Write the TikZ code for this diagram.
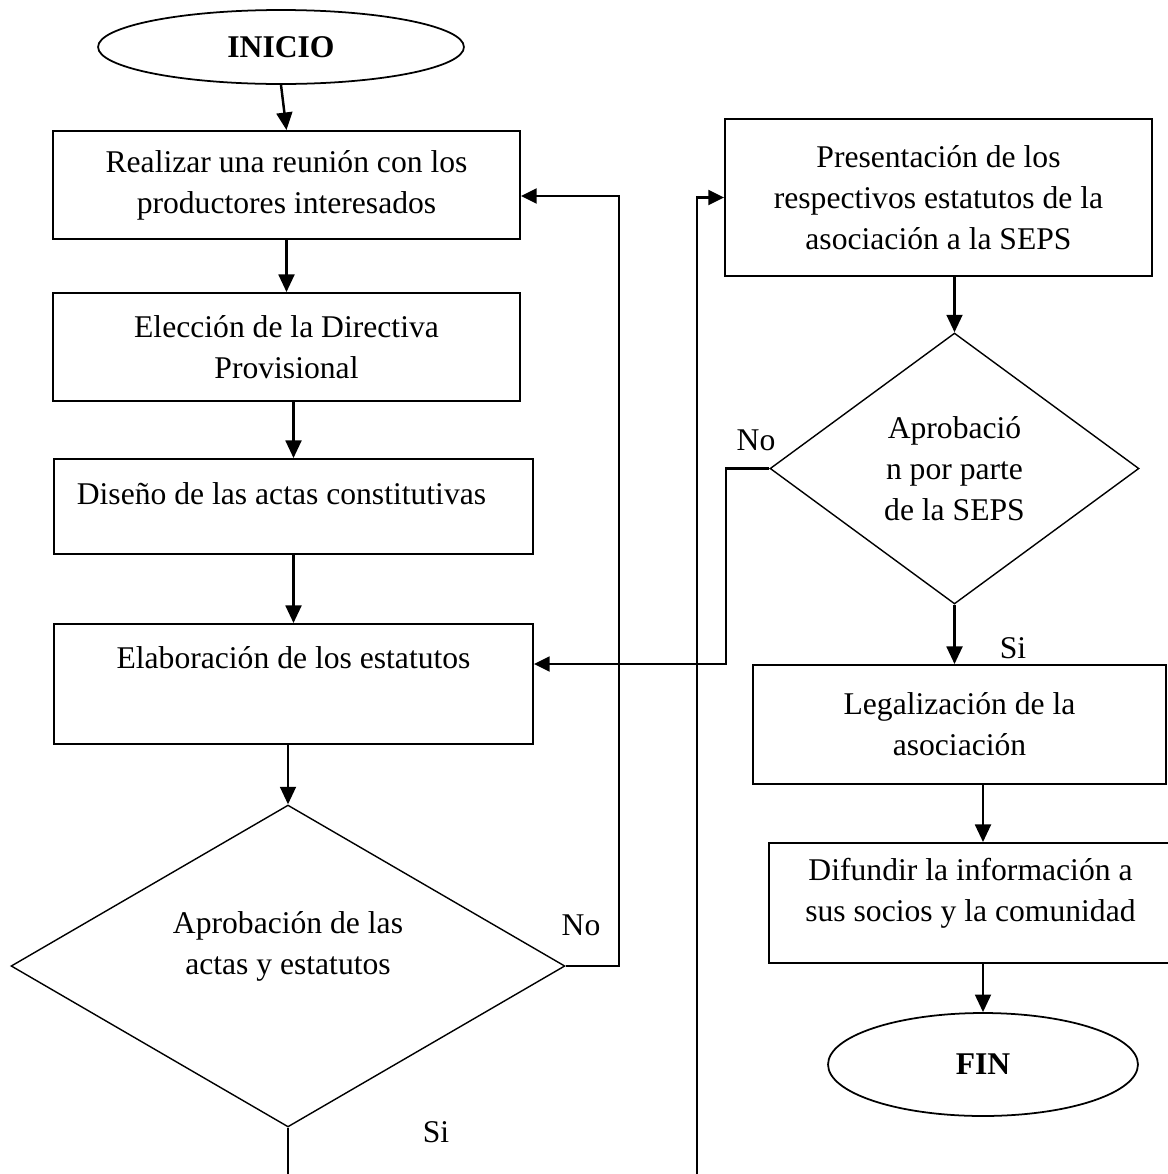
\documentclass[tikz,border=0pt]{standalone}
\usepackage{fontspec}
\setmainfont{Liberation Serif}
\usepackage{tikz}
\usetikzlibrary{shapes.geometric,arrows.meta}

\begin{document}
\begin{tikzpicture}[x=0.02cm,y=-0.02cm,
    txt/.style={font=\fontsize{18pt}{23.3pt}\selectfont,align=center},
    caja/.style={txt,draw,line width=1.1pt,inner sep=0pt},
    rombo/.style={txt,diamond,draw,line width=0.8pt,inner sep=0pt},
    elipse/.style={ellipse,draw,line width=1pt,inner sep=0pt,font=\fontsize{18pt}{23.3pt}\selectfont\bfseries},
    flecha/.style={-{Triangle[length=10pt,width=9pt]},line width=1.4pt},
    lazo/.style={-{Triangle[length=9pt,width=8.5pt]},line width=1.2pt},
    linea/.style={line width=1.2pt}]
    \useasboundingbox (0,0) rectangle (1168,1174);

    % Left column: from INICIO to the first approval
    \node[elipse,minimum width=7.32cm,minimum height=1.48cm] (inicio) at (281,47) {INICIO};
    \node[caja,minimum width=9.34cm,minimum height=2.16cm] (reunion) at (286.5,185) {Realizar una reunión con los\\productores interesados};
    \node[caja,minimum width=9.34cm,minimum height=2.16cm] (directiva) at (286.5,347) {Elección de la Directiva\\Provisional};
    \node[caja,minimum width=9.58cm,minimum height=1.9cm] (actas) at (293.5,506.5) {Diseño de las actas constitutivas\hspace*{0.48cm}\\[-8.5pt]\mbox{}};
    \node[caja,minimum width=9.58cm,minimum height=2.4cm] (estatutos) at (293.5,684) {Elaboración de los estatutos\\[7.4pt]\mbox{}};
    \node[rombo,aspect=1.72,minimum width=11.08cm,minimum height=6.44cm] (aprob1) at (288,966) {Aprobación de las\\actas y estatutos\\[2.8pt]\mbox{}};

    % Right column: from the SEPS to FIN
    \node[caja,minimum width=8.54cm,minimum height=3.14cm] (seps) at (938.5,197.5) {Presentación de los\\respectivos estatutos de la\\asociación a la SEPS};
    \node[rombo,aspect=1.36,minimum width=7.38cm,minimum height=5.42cm] (aprob2) at (954.5,468.5) {Aprobació\\n por parte\\de la SEPS};
    \node[caja,minimum width=8.26cm,minimum height=2.38cm] (legal) at (959.5,724.5) {Legalización de la\\asociación};
    \node[caja,minimum width=8.06cm,minimum height=2.4cm] (difundir) at (970.5,903) {Difundir la información a\\sus socios y la comunidad\\[-8.5pt]\mbox{}};
    \node[elipse,minimum width=6.2cm,minimum height=2.06cm] (fin) at (983,1064.5) {FIN};

    % Labels of the decisions
    \node[txt] (no1) at (581,925) {No};
    \node[txt] (si1) at (436,1132) {Si};
    \node[txt] (no2) at (756,440) {No};
    \node[txt] (si2) at (1013,648) {Si};

    % Main flow
    \draw[flecha] (inicio.south) -- (reunion.north);
    \draw[flecha] (reunion.south) -- (directiva.north);
    \draw[flecha] (actas.north |- directiva.south) -- (actas.north);
    \draw[flecha] (actas.south) -- (estatutos.north);
    \draw[flecha] (estatutos.south -| aprob1.north) -- (aprob1.north);
    \draw[flecha] (seps.south -| aprob2.north) -- (aprob2.north);
    \draw[flecha] (aprob2.south) -- (aprob2.south |- legal.north);
    \draw[flecha] (fin.north |- legal.south) -- (fin.north |- difundir.north);
    \draw[flecha] (difundir.south -| fin.north) -- (fin.north);

    % Loops back and the long line up to the SEPS
    \coordinate (c1) at (619,196);
    \coordinate (c2) at (726,664);
    \coordinate (s1) at (288,1180);
    \coordinate (s2) at (697,1180);
    \draw[lazo] (aprob1.east) -| (c1) -- (c1 -| reunion.east);
    \draw[lazo] (aprob2.west) -| (c2) -- (c2 -| estatutos.east);
    \draw[linea] (aprob1.south) -- (s1);
    \draw[lazo] (s2) |- (seps.west);
\end{tikzpicture}
\end{document}
